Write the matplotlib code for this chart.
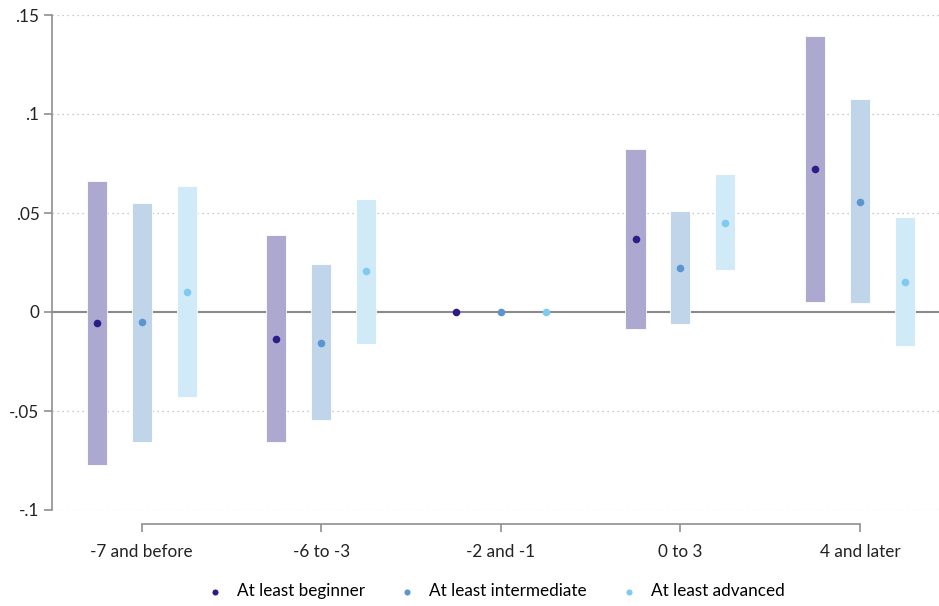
import matplotlib
matplotlib.use("Agg")
import matplotlib.pyplot as plt
import numpy as np

categories = ["-7 and before", "-6 to -3", "-2 and -1", "0 to 3", "4 and later"]
series = ["At least beginner", "At least intermediate", "At least advanced"]

beginner_est = [-0.0056, -0.0136, 0.0, 0.0369, 0.0721]
beginner_lo = [-0.0773, -0.0657, 0.0, -0.0084, 0.0051]
beginner_hi = [0.0662, 0.0389, 0.0, 0.0823, 0.1392]

intermediate_est = [-0.0050, -0.0157, 0.0, 0.0224, 0.0557]
intermediate_lo = [-0.0657, -0.0545, 0.0, -0.0061, 0.0044]
intermediate_hi = [0.0550, 0.0242, 0.0, 0.0510, 0.1074]

advanced_est = [0.0101, 0.0207, 0.0, 0.0451, 0.0153]
advanced_lo = [-0.0430, -0.0162, 0.0, 0.0211, -0.0170]
advanced_hi = [0.0636, 0.0570, 0.0, 0.0695, 0.0480]

yticks = [-0.1, -0.05, 0, 0.05, 0.1, 0.15]
ytick_labels = ["-.1", "-.05", "0", ".05", ".1", ".15"]

bar_colors = ["#ada8d0", "#c1d5ea", "#d0eaf7"]
dot_colors = ["#2d1b86", "#5b95d0", "#7fcbef"]
offsets = [-0.25, 0.0, 0.25]

plt.rcParams["font.family"] = ["Lato", "DejaVu Sans"]

fig = plt.figure(figsize=(9.39, 6.06), dpi=100)
ax = fig.add_axes([52 / 939, 1 - 510 / 606, 1 - 52 / 939, (510 - 15) / 606])

x = np.arange(len(categories))
data = [
    (beginner_est, beginner_lo, beginner_hi),
    (intermediate_est, intermediate_lo, intermediate_hi),
    (advanced_est, advanced_lo, advanced_hi),
]

for yv in yticks:
    if yv != 0:
        ax.axhline(yv, color="#b8b8b8", lw=0.9, ls=(0, (1, 3)), zorder=0)
ax.axhline(0, color="#8a8a8a", lw=1.5, zorder=1)

for i, (est, lo, hi) in enumerate(data):
    lo = np.array(lo)
    hi = np.array(hi)
    xs = x + offsets[i]
    m = hi > lo
    ax.bar(xs[m], (hi - lo)[m], bottom=lo[m], width=0.112, color=bar_colors[i],
           edgecolor="white", linewidth=0.6, zorder=2)
    ax.scatter(xs, est, s=30, color=dot_colors[i], zorder=3, linewidths=0,
               label=series[i])

ax.set_ylim(-0.1, 0.15)
ax.set_xlim(-0.5, 4.44)
ax.set_yticks(yticks)
ax.set_yticklabels(ytick_labels)
ax.set_xticks(x)
ax.set_xticklabels(categories)

for s in ["top", "right"]:
    ax.spines[s].set_visible(False)
ax.spines["left"].set_color("#8f8f8f")
ax.spines["left"].set_linewidth(1.2)
ax.spines["bottom"].set_color("#8f8f8f")
ax.spines["bottom"].set_linewidth(1.2)
ax.spines["bottom"].set_position(("outward", 10))
ax.spines["bottom"].set_bounds(0, 4)

ax.tick_params(axis="y", colors="#8f8f8f", labelcolor="#222222", labelsize=12.3,
               length=6, width=1.2, pad=3)
ax.tick_params(axis="x", colors="#8f8f8f", labelcolor="#222222", labelsize=12.3,
               length=6, width=1.2, pad=8.5)

leg = fig.legend(loc="lower center", bbox_to_anchor=(0.523, -0.014), ncol=3, frameon=False,
                 fontsize=12.3, handletextpad=0.3, columnspacing=1.45,
                 markerscale=0.8)

fig.savefig("out.png", dpi=100)
